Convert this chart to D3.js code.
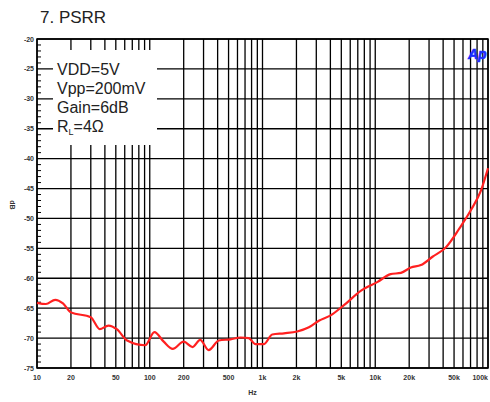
<!DOCTYPE html>
<html>
<head>
<meta charset="utf-8">
<script src="https://d3js.org/d3.v7.min.js"></script>
<style>
  body { margin: 0; background: #fff; }
  svg { display: block; font-family: "Liberation Sans", Arial, sans-serif; }
</style>
</head>
<body>
<div id="chart"></div>
<script>
// data
var freq = [10, 12, 14.5, 17, 20, 30, 36, 43, 51, 63, 91, 110, 133, 160, 200, 240, 280, 333, 410, 520,
  640, 755, 866, 1030, 1220, 1550, 2030, 2580, 3160, 4020, 5280, 7430, 10500, 13700, 16900, 20700,
  25400, 32200, 42400, 55600, 70600, 86700, 100000];
var psrr = [-64.1, -64.3, -63.6, -64.2, -65.7, -66.5, -68.5, -67.9, -68.5, -70.4, -71.2, -69.0, -70.6,
  -71.8, -70.6, -71.5, -70.3, -72.0, -70.4, -70.2, -69.9, -70.0, -71.0, -71.0, -69.4, -69.2, -68.9,
  -68.2, -67.1, -66.2, -64.5, -62.1, -60.6, -59.3, -59.1, -58.2, -57.8, -56.4, -54.8, -51.7, -48.6,
  -45.3, -41.6];
var xTicks = [10, 20, 50, 100, 200, 500, 1000, 2000, 5000, 10000, 20000, 50000, 100000];
var xTickLabels = ["10", "20", "50", "100", "200", "500", "1k", "2k", "5k", "10k", "20k", "50k", "100k"];
var yTicks = [-20, -25, -30, -35, -40, -45, -50, -55, -60, -65, -70, -75];
var notes = ["VDD=5V", "Vpp=200mV", "Gain=6dB"];

var width = 490, height = 402;
var margin = { top: 39, right: 2, bottom: 34, left: 37 };
var w = width - margin.left - margin.right;
var h = height - margin.top - margin.bottom;

var svg = d3.select("#chart").append("svg")
  .attr("width", width)
  .attr("height", height);

// title
svg.append("text")
  .attr("x", 40).attr("y", 23)
  .attr("font-size", 17)
  .attr("fill", "#222")
  .text("7. PSRR");

var g = svg.append("g").attr("transform", "translate(" + margin.left + "," + margin.top + ")");

var x = d3.scaleLog().domain([10, 100000]).range([0, w]);
var y = d3.scaleLinear().domain([-75, -20]).range([h, 0]);

// grid: every 1..9 per decade
var vGrid = [];
for (var d = 10; d < 100000; d *= 10) {
  for (var k = 1; k < 10; k++) vGrid.push(d * k);
}
vGrid.push(100000);

g.selectAll(".vg").data(vGrid).enter().append("line")
  .attr("x1", d => x(d)).attr("x2", d => x(d))
  .attr("y1", 0).attr("y2", h)
  .attr("stroke", "#000").attr("stroke-width", 1.3);

g.selectAll(".hg").data(yTicks).enter().append("line")
  .attr("x1", 0).attr("x2", w)
  .attr("y1", d => y(d)).attr("y2", d => y(d))
  .attr("stroke", "#000").attr("stroke-width", 1.3);

// minor ticks on the left axis, 1 dB
var yMinor = d3.range(-75, -20, 1).filter(v => v % 5 !== 0);
g.selectAll(".ym").data(yMinor).enter().append("line")
  .attr("x1", 0).attr("x2", 4)
  .attr("y1", d => y(d)).attr("y2", d => y(d))
  .attr("stroke", "#000").attr("stroke-width", 1);

// legend box hides the grid behind it
g.append("rect")
  .attr("x", 16).attr("y", 11)
  .attr("width", 104).attr("height", 95)
  .attr("fill", "#fff");

var notesG = svg.append("g").attr("font-size", 16).attr("fill", "#222");
notes.forEach(function (t, i) {
  notesG.append("text").attr("x", 57).attr("y", 75 + i * 19).text(t);
});
var rl = notesG.append("text").attr("x", 57).attr("y", 132);
rl.append("tspan").text("R");
rl.append("tspan").attr("font-size", 9).attr("dy", 3).text("L");
rl.append("tspan").attr("dy", -3).text("=4Ω");

// frame
g.append("rect")
  .attr("width", w).attr("height", h)
  .attr("fill", "none").attr("stroke", "#000").attr("stroke-width", 1.5);

// curve
var line = d3.line()
  .x((d, i) => x(freq[i]))
  .y(d => y(d))
  .curve(d3.curveMonotoneX);
g.append("path")
  .attr("d", line(psrr))
  .attr("fill", "none")
  .attr("stroke", "#ff2020")
  .attr("stroke-width", 2.2);

// tick labels
g.selectAll(".xl").data(xTicks).enter().append("text")
  .attr("x", d => x(d)).attr("y", h + 12)
  .attr("text-anchor", (d, i) => i === xTicks.length - 1 ? "end" : "middle")
  .attr("font-size", 7).attr("font-weight", "bold").attr("fill", "#333")
  .text((d, i) => xTickLabels[i]);

g.selectAll(".yl").data(yTicks).enter().append("text")
  .attr("x", -3).attr("y", d => y(d) + 2.5)
  .attr("text-anchor", "end")
  .attr("font-size", 7).attr("font-weight", "bold").attr("fill", "#333")
  .text(d => d);

// axis names
g.append("text")
  .attr("x", w / 2 - 10).attr("y", h + 27)
  .attr("text-anchor", "middle")
  .attr("font-size", 7).attr("font-weight", "bold").attr("fill", "#333")
  .text("Hz");
svg.append("text")
  .attr("transform", "translate(10,205) rotate(90)")
  .attr("text-anchor", "middle")
  .attr("font-size", 7).attr("font-weight", "bold").attr("fill", "#333")
  .text("dB");

// AP logo
svg.append("text")
  .attr("x", 468).attr("y", 59)
  .attr("font-size", 14).attr("font-weight", "bold").attr("font-style", "italic")
  .attr("fill", "#1a2cff").attr("stroke", "#1a2cff").attr("stroke-width", 0.6)
  .text("Ap");
</script>
</body>
</html>
